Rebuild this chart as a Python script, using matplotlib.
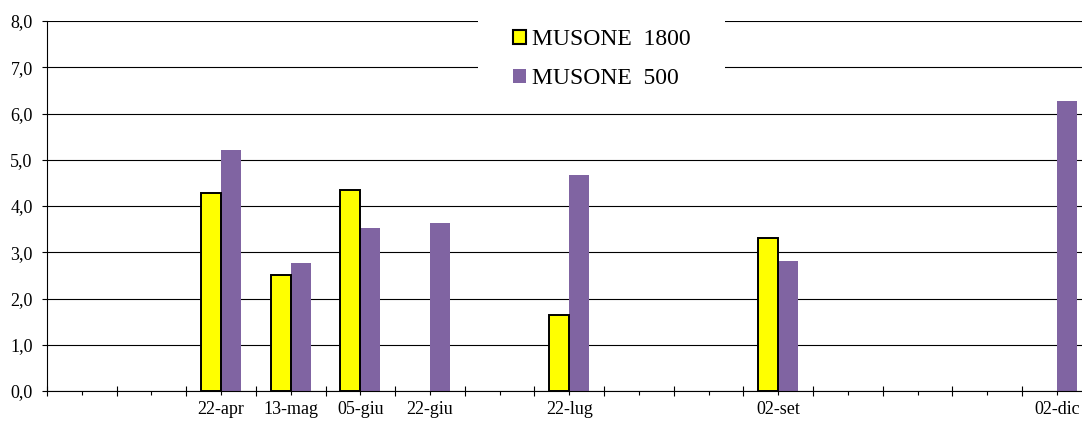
import numpy as np
import matplotlib.pyplot as plt
from matplotlib.patches import Patch, Rectangle
from matplotlib.ticker import FuncFormatter

# categories of the axis (empty ones have no label)
categories = ['', '', '22-apr', '13-mag', '05-giu', '22-giu', '', '22-lug',
              '', '', '02-set', '', '', '', '02-dic']
nan = np.nan
musone_1800 = [nan, nan, 4.29, 2.51, 4.35, nan, nan, 1.64, nan, nan, 3.30, nan, nan, nan, nan]
musone_500 = [nan, nan, 5.21, 2.77, 3.53, 3.63, nan, 4.67, nan, nan, 2.81, nan, nan, nan, 6.26]
series_names = ['MUSONE  1800', 'MUSONE  500']

plt.rcParams['font.family'] = ['Liberation Serif', 'DejaVu Serif']

fig = plt.figure(figsize=(10.82, 4.22), dpi=100)
ax = fig.add_axes([47 / 1082, 31 / 422, 1035 / 1082, 370 / 422])

x = np.arange(len(categories))
w = 0.287
ax.bar(x - w / 2, musone_1800, w, color='#FFFF00', edgecolor='black', linewidth=1.4, zorder=3)
ax.bar(x + w / 2, musone_500, w, color='#8064A2', edgecolor='none', zorder=2)

ax.set_yticks(np.arange(0, 9, 1))
ax.yaxis.set_major_formatter(FuncFormatter(lambda v, p: f'{v:.1f}'.replace('.', ',')))
ax.tick_params(axis='y', direction='out', length=3.8, width=0.8, pad=6.5, labelsize=13)

# long ticks between categories, short ticks with labels at the centres
ax.set_xticks(np.arange(len(categories) + 1) - 0.5)
ax.set_xticklabels([])
ax.set_xticks(x, categories, minor=True)
ax.tick_params(axis='x', which='major', direction='inout', length=6.5, width=0.8)
ax.tick_params(axis='x', which='minor', direction='out', length=3.2, width=0.8,
               pad=4, labelsize=13)

# limits after the ticks, so they are not widened
ax.set_xlim(-0.5, -0.5 + 1035 / 69.64)
ax.set_ylim(0, 8)

ax.grid(axis='y', color='black', linewidth=0.8)
ax.set_axisbelow(True)
for s in ['top', 'right']:
    ax.spines[s].set_visible(False)
ax.spines['left'].set_linewidth(0.8)
ax.spines['bottom'].set_linewidth(0.8)

# white box of the legend, hiding the gridlines behind it
ax.add_patch(Rectangle((0.4164, 0.786), 0.2386, 0.3, transform=ax.transAxes,
                       facecolor='white', edgecolor='none', zorder=1, clip_on=False))

handles = [Patch(facecolor='#FFFF00', edgecolor='black', linewidth=1.5),
           Patch(facecolor='#8064A2', edgecolor='none')]
leg = ax.legend(handles, series_names, loc='upper center', bbox_to_anchor=(0.5357, 0.978),
                fontsize=17, frameon=False, handlelength=0.55,
                handleheight=0.55, handletextpad=0.25, labelspacing=0.77,
                borderpad=0, borderaxespad=0)
leg.set_zorder(10)

fig.savefig('out.png', dpi=100)
